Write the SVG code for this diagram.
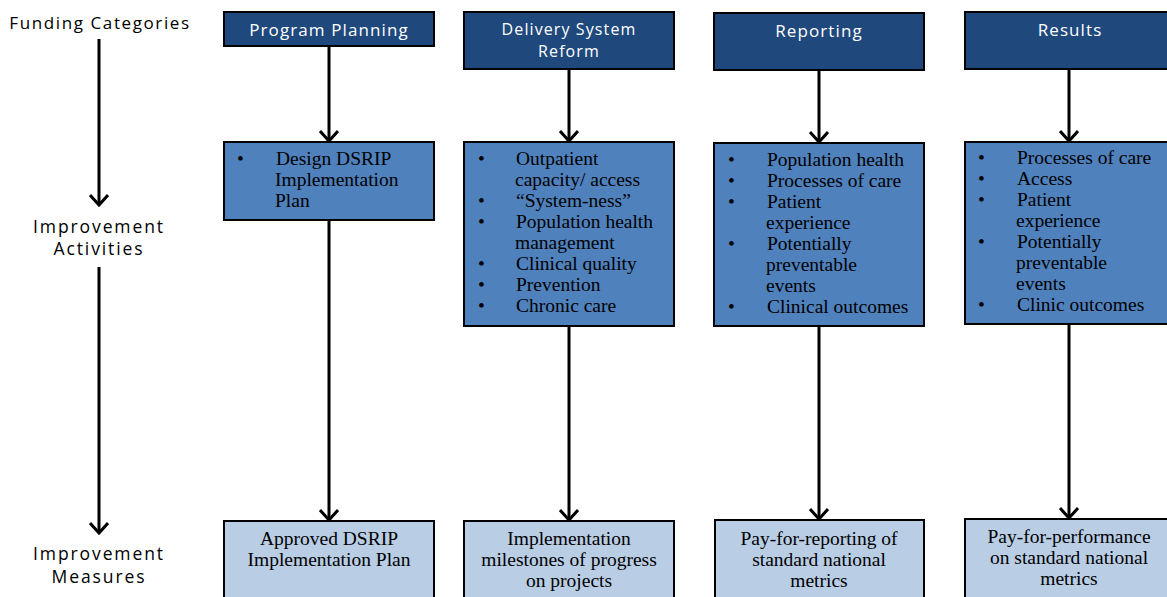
<svg xmlns="http://www.w3.org/2000/svg" width="1167" height="597" viewBox="0 0 1167 597">
<defs>
<marker id="ah" viewBox="0 0 14 20" refX="12" refY="10" markerWidth="14" markerHeight="20" markerUnits="userSpaceOnUse" orient="auto">
<path d="M2,1 L12,10 L2,19" fill="none" stroke="#000" stroke-width="3"/>
</marker>
<style>
.hdr{fill:#1F497D;stroke:#000;stroke-width:2}
.act{fill:#4F81BD;stroke:#000;stroke-width:2}
.mea{fill:#B9CDE5;stroke:#000;stroke-width:2}
.ht{font-family:"Open Sans","Liberation Sans",sans-serif;font-size:17px;fill:#fff;letter-spacing:1.1px;text-anchor:middle}
.lt{font-family:"Open Sans","Liberation Sans",sans-serif;font-size:17.5px;fill:#000;letter-spacing:1.9px;text-anchor:middle}
.st{font-family:"Liberation Serif","Times New Roman",serif;font-size:19.5px;fill:#000}
.sc{font-family:"Liberation Serif","Times New Roman",serif;font-size:19.5px;fill:#000;text-anchor:middle}
.ln{stroke:#000;stroke-width:3;fill:none;marker-end:url(#ah)}
</style>
</defs>
<rect width="1167" height="597" fill="#fff"/>

<g id="labels">
<text class="lt" x="100" y="29" style="font-size:17px;letter-spacing:1.6px">Funding Categories</text>
<text class="lt" x="99" y="233">Improvement</text>
<text class="lt" x="99" y="255">Activities</text>
<text class="lt" x="99" y="560">Improvement</text>
<text class="lt" x="99" y="583">Measures</text>
</g>

<g id="connectors">
<line class="ln" x1="99" y1="39" x2="99" y2="205"/>
<line class="ln" x1="99" y1="267" x2="99" y2="533"/>
<line class="ln" x1="329" y1="46" x2="329" y2="141"/>
<line class="ln" x1="569" y1="69" x2="569" y2="141"/>
<line class="ln" x1="819" y1="70" x2="819" y2="142"/>
<line class="ln" x1="1069" y1="69" x2="1069" y2="141"/>
<line class="ln" x1="329" y1="220" x2="329" y2="520"/>
<line class="ln" x1="569" y1="326" x2="569" y2="520"/>
<line class="ln" x1="819" y1="326" x2="819" y2="519"/>
<line class="ln" x1="1069" y1="324" x2="1069" y2="518"/>
</g>

<g id="h-program">
<rect class="hdr" x="224" y="12" width="210" height="34"/>
<text class="ht" x="329" y="36">Program Planning</text>
</g>
<g id="h-delivery">
<rect class="hdr" x="464" y="12" width="210" height="57"/>
<text class="ht" x="569" y="35" style="font-size:16px">Delivery System</text>
<text class="ht" x="569" y="57" style="font-size:16px">Reform</text>
</g>
<g id="h-reporting">
<rect class="hdr" x="714" y="13" width="210" height="57"/>
<text class="ht" x="819" y="37">Reporting</text>
</g>
<g id="h-results">
<rect class="hdr" x="965" y="12" width="212" height="57"/>
<text class="ht" x="1070" y="36">Results</text>
</g>

<g id="a-program">
<rect class="act" x="224" y="142" width="210" height="78"/>
<text class="st" x="237" y="165">•</text>
<text class="st" x="276" y="165">Design DSRIP</text>
<text class="st" x="275" y="186">Implementation</text>
<text class="st" x="275" y="207">Plan</text>
</g>
<g id="a-delivery">
<rect class="act" x="464" y="142" width="210" height="184"/>
<g class="st">
<text x="478" y="165">•</text><text x="516" y="165">Outpatient</text>
<text x="515" y="186">capacity/ access</text>
<text x="478" y="207">•</text><text x="516" y="207">“System-ness”</text>
<text x="478" y="228">•</text><text x="516" y="228">Population health</text>
<text x="515" y="249">management</text>
<text x="478" y="270">•</text><text x="516" y="270">Clinical quality</text>
<text x="478" y="291">•</text><text x="516" y="291">Prevention</text>
<text x="478" y="312">•</text><text x="516" y="312">Chronic care</text>
</g>
</g>
<g id="a-reporting">
<rect class="act" x="714" y="143" width="210" height="183"/>
<g class="st">
<text x="728" y="166">•</text><text x="767" y="166">Population health</text>
<text x="728" y="187">•</text><text x="767" y="187">Processes of care</text>
<text x="728" y="208">•</text><text x="767" y="208">Patient</text>
<text x="766" y="229">experience</text>
<text x="728" y="250">•</text><text x="767" y="250">Potentially</text>
<text x="766" y="271">preventable</text>
<text x="766" y="292">events</text>
<text x="728" y="313">•</text><text x="767" y="313">Clinical outcomes</text>
</g>
</g>
<g id="a-results">
<rect class="act" x="965" y="142" width="212" height="182"/>
<g class="st">
<text x="978" y="164">•</text><text x="1017" y="164">Processes of care</text>
<text x="978" y="185">•</text><text x="1017" y="185">Access</text>
<text x="978" y="206">•</text><text x="1017" y="206">Patient</text>
<text x="1016" y="227">experience</text>
<text x="978" y="248">•</text><text x="1017" y="248">Potentially</text>
<text x="1016" y="269">preventable</text>
<text x="1016" y="290">events</text>
<text x="978" y="311">•</text><text x="1017" y="311">Clinic outcomes</text>
</g>
</g>

<g id="m-program">
<rect class="mea" x="224" y="521" width="210" height="90"/>
<text class="sc" x="329" y="545">Approved DSRIP</text>
<text class="sc" x="329" y="566">Implementation Plan</text>
</g>
<g id="m-delivery">
<rect class="mea" x="464" y="521" width="210" height="90"/>
<text class="sc" x="569" y="545">Implementation</text>
<text class="sc" x="569" y="566">milestones of progress</text>
<text class="sc" x="569" y="587">on projects</text>
</g>
<g id="m-reporting">
<rect class="mea" x="715" y="520" width="209" height="90"/>
<text class="sc" x="819" y="545">Pay-for-reporting of</text>
<text class="sc" x="819" y="566">standard national</text>
<text class="sc" x="819" y="587">metrics</text>
</g>
<g id="m-results">
<rect class="mea" x="965" y="519" width="212" height="90"/>
<text class="sc" x="1069" y="543">Pay-for-performance</text>
<text class="sc" x="1069" y="564">on standard national</text>
<text class="sc" x="1069" y="585">metrics</text>
</g>
</svg>
